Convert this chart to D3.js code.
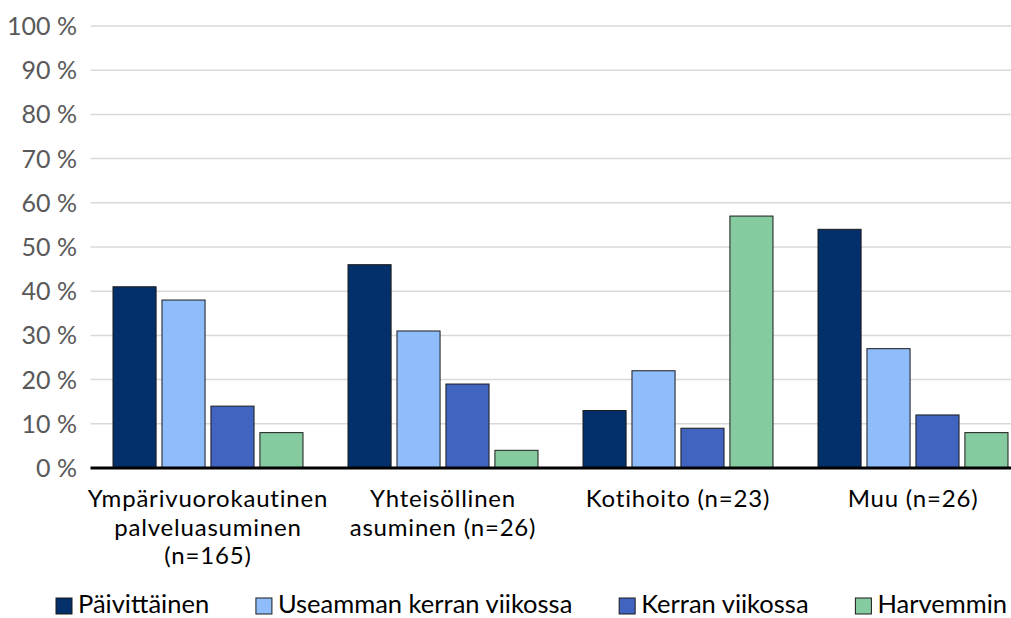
<!DOCTYPE html>
<html>
<head>
<meta charset="utf-8">
<script src="https://cdn.jsdelivr.net/npm/d3@7"></script>
<style>
  body { margin: 0; background: #fff; }
  svg { display: block; font-family: Lato, "Open Sans", sans-serif; }
</style>
</head>
<body>
<svg id="chart" width="1011" height="618"></svg>
<script>
const width = 1011;
const height = 618;

// categories, split into the lines they are written on
const categories = ["Ympärivuorokautinen", "Yhteisöllinen", "Kotihoito", "Muu"];
const categoryLines = [
    ["Ympärivuorokautinen", "palveluasuminen", "(n=165)"],
    ["Yhteisöllinen", "asuminen (n=26)"],
    ["Kotihoito (n=23)"],
    ["Muu (n=26)"]
];

const seriesNames = ["Päivittäinen", "Useamman kerran viikossa", "Kerran viikossa", "Harvemmin"];
const colors = ["#03306b", "#8fbdfb", "#4164c1", "#86cba0"];

// percent values, one array per series, in category order
const paivittain = [41, 46, 13, 54];
const useammin = [38, 31, 22, 27];
const kerran = [14, 19, 9, 12];
const harvemmin = [8, 4, 57, 8];
const seriesValues = [paivittain, useammin, kerran, harvemmin];

const yTicks = [0, 10, 20, 30, 40, 50, 60, 70, 80, 90, 100];

const plotLeft = 90.5;
const plotRight = 1030.5;
const plotTop = 26;
const plotBottom = 468;

const svg = d3.select("#chart");

const x0 = d3.scaleBand()
    .domain(categories)
    .range([plotLeft, plotRight])
    .padding(0);

const x1 = d3.scaleBand()
    .domain(seriesNames)
    .range([22.5, x0.bandwidth() - 22.5])
    .paddingInner(0.12)
    .paddingOuter(0);

const y = d3.scaleLinear()
    .domain([0, 100])
    .range([plotBottom, plotTop]);

// grid lines
svg.append("g")
    .selectAll("line")
    .data(yTicks.filter(d => d > 0))
    .join("line")
    .attr("x1", plotLeft)
    .attr("x2", width)
    .attr("y1", d => y(d))
    .attr("y2", d => y(d))
    .attr("stroke", "#d9d9d9")
    .attr("stroke-width", 1.5);

// y tick labels
svg.append("g")
    .selectAll("text")
    .data(yTicks)
    .join("text")
    .attr("x", 77)
    .attr("y", d => y(d))
    .attr("dy", "0.36em")
    .attr("text-anchor", "end")
    .attr("font-size", "25px")
    .attr("fill", "#595959")
    .text(d => d + " %");

// bars
const groups = svg.append("g")
    .selectAll("g")
    .data(categories)
    .join("g")
    .attr("transform", d => `translate(${x0(d)},0)`);

groups.selectAll("rect")
    .data((d, i) => seriesNames.map((s, j) => ({ s: s, v: seriesValues[j][i], c: colors[j] })))
    .join("rect")
    .attr("x", d => x1(d.s))
    .attr("y", d => y(d.v))
    .attr("width", x1.bandwidth())
    .attr("height", d => y(0) - y(d.v))
    .attr("fill", d => d.c)
    .attr("stroke", "#1a1a1a")
    .attr("stroke-width", 1);

// baseline
svg.append("line")
    .attr("x1", plotLeft)
    .attr("x2", width)
    .attr("y1", y(0))
    .attr("y2", y(0))
    .attr("stroke", "#000")
    .attr("stroke-width", 3);

// category labels
const labels = svg.append("g")
    .selectAll("text")
    .data(categories)
    .join("text")
    .attr("x", d => x0(d) + x0.bandwidth() / 2)
    .attr("y", 507)
    .attr("text-anchor", "middle")
    .attr("font-size", "24px")
    .attr("letter-spacing", "0.8px")
    .attr("fill", "#000");

labels.selectAll("tspan")
    .data((d, i) => categoryLines[i])
    .join("tspan")
    .attr("x", function () { return this.parentNode.getAttribute("x"); })
    .attr("dy", (d, i) => i == 0 ? 0 : 28.5)
    .text(d => d);

// legend: first box at 56, last text ending near 1007, equal gaps between items
const legend = svg.append("g");
const items = seriesNames.map(function (name, i) {
    const box = legend.append("rect")
        .attr("y", 598)
        .attr("width", 16)
        .attr("height", 16)
        .attr("fill", colors[i])
        .attr("stroke", "#1a1a1a")
        .attr("stroke-width", 1);
    const t = legend.append("text")
        .attr("y", 612.5)
        .attr("font-size", "25.5px")
        .attr("fill", "#000")
        .text(name);
    return { box: box, t: t, w: 22 + t.node().getComputedTextLength() };
});
const total = d3.sum(items, d => d.w);
const gap = (1007 - 56 - total) / (items.length - 1);
let lx = 56;
items.forEach(function (d) {
    d.box.attr("x", lx);
    d.t.attr("x", lx + 22);
    lx += d.w + gap;
});
</script>
</body>
</html>
